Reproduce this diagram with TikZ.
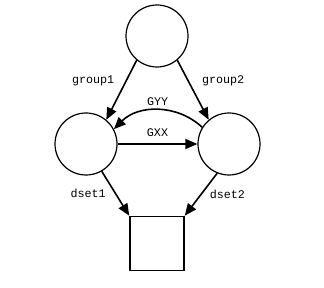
\documentclass[tikz,border=0pt]{standalone}
\usepackage{fontspec}
\setmonofont{Liberation Mono}
\usetikzlibrary{arrows.meta,positioning}

\begin{document}
\begin{tikzpicture}[
  x=1pt, y=-1pt,
  grp/.style={draw, circle, line width=1.2pt, minimum size=62pt, inner sep=0pt},
  sink/.style={draw, rectangle, line width=1.5pt, minimum size=54pt, inner sep=0pt},
  lbl/.style={font=\fontsize{11.7}{13}\selectfont\ttfamily, inner sep=0pt},
  arr/.style={-{Triangle[length=12pt,width=10pt]}, line width=1.6pt},
  node distance=108pt and 71pt, on grid
]
\useasboundingbox (0,0) rectangle (324,288);

% groups
\node[grp] (top) at (157,36) {};
\node[grp, below left=108pt and 71pt of top] (gleft) {};
\node[grp, below right=108pt and 72pt of top] (gright) {};

% data set
\node[sink, below=207.5pt of top] (dset) {};

% top to groups
\draw[arr] (top.230) -- node[lbl, pos=0.35, left=11pt] (l1) {group1} (gleft.50);
\draw[arr] (top.310) -- node[lbl, pos=0.35, right=13pt] (l2) {group2} (gright.130);

% between groups
\draw[arr] (gleft.east) -- node[lbl, above=6.5pt] (lxx) {GXX} (gright.west);
\draw[arr] (gright.148) to[bend right=44] node[lbl, above=3.5pt] (lyy) {GYY} (gleft.28);

% groups to data set
\draw[arr] (gleft.-60) -- node[lbl, left=9pt] (l3) {dset1} (dset.north west);
\draw[arr] (gright.-112) -- node[lbl, right=8pt] (l4) {dset2} (dset.north east);

\end{tikzpicture}
\end{document}
